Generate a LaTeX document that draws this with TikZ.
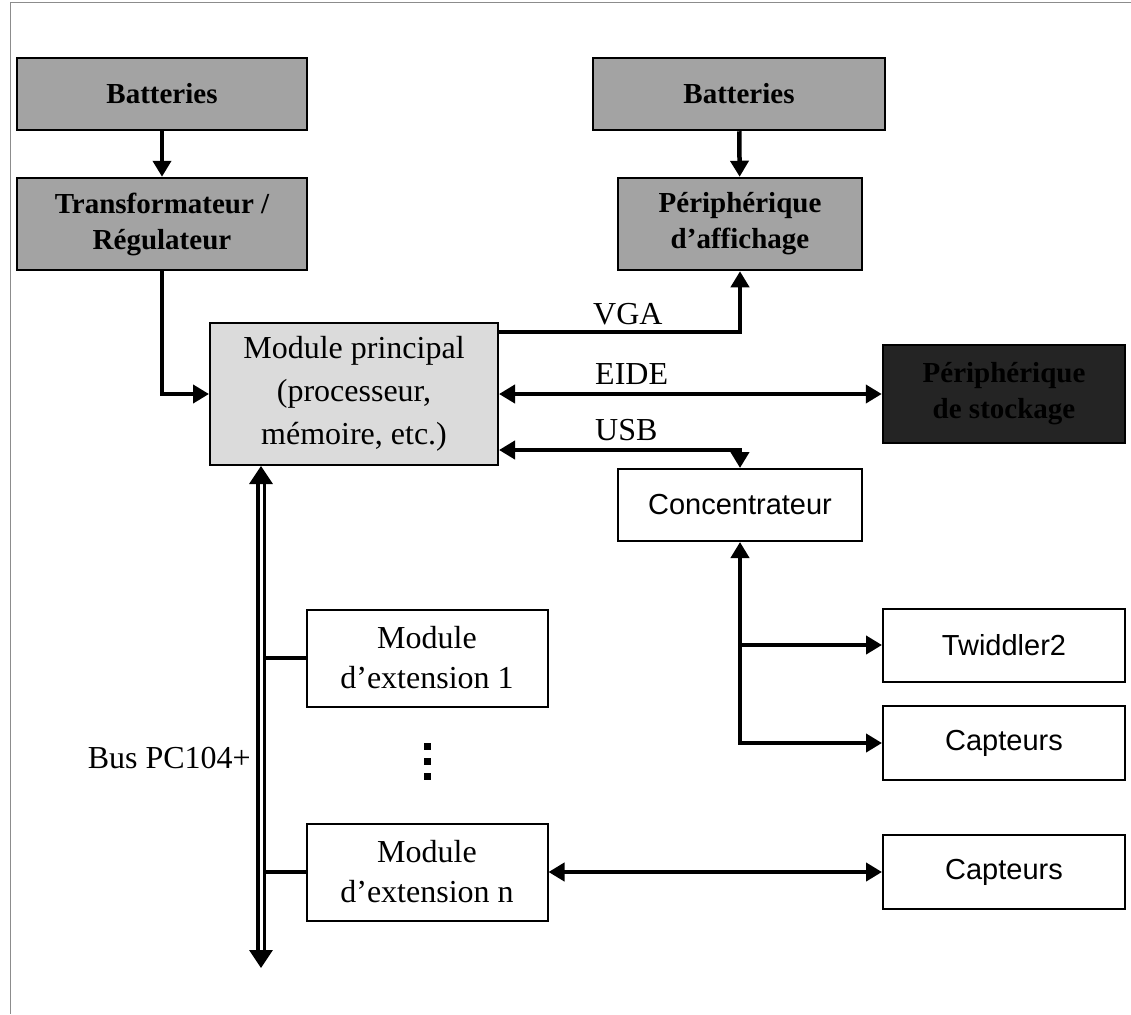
\documentclass[tikz,border=0pt]{standalone}
\usepackage{fontspec}
\setmainfont{Liberation Serif}
\newfontfamily\arialfont{Liberation Sans}
\usetikzlibrary{arrows.meta}
\begin{document}
\begin{tikzpicture}[x=1pt,y=-1pt,
  box/.style={draw, line width=2pt, rectangle, align=center, inner sep=0pt,
    font=\fontsize{32}{40}\selectfont},
  power/.style={box, line width=2.5pt, fill=black!36, font=\fontsize{29}{36}\selectfont\bfseries},
  mainbox/.style={box, fill=black!14, font=\fontsize{32}{43}\selectfont},
  darkbox/.style={box, line width=2.5pt, fill=black!86, text=black, font=\fontsize{29}{36}\selectfont\bfseries},
  sbox/.style={box, font=\fontsize{29}{34}\arialfont},
  lab/.style={inner sep=0pt, font=\fontsize{32}{38}\selectfont},
  link/.style={line width=4.5pt},
  arr/.style={link, -{Triangle[length=16pt,width=18pt]}},
  darr/.style={link, {Triangle[length=16pt,width=18pt]}-{Triangle[length=16pt,width=18pt]}},
  bus/.style={double, double distance=3pt, line width=3.5pt,
    {Triangle[length=18pt,width=23pt]}-{Triangle[length=18pt,width=23pt]}}
]
\useasboundingbox (0,0) rectangle (1131,1014);
% page frame
\draw[black!45, line width=1pt] (1131,3) -- (10,3) -- (10,1014);

% power chain
\node[power, minimum width=290, minimum height=72] (bat1) at (162,94) {Batteries};
\node[power, minimum width=290, minimum height=92] (tr) at (162,224) {Transformateur /\\Régulateur};
\node[power, minimum width=292, minimum height=72] (bat2) at (739,94) {Batteries};
\node[power, minimum width=244, minimum height=92] (aff) at (740,224) {Périphérique\\d’affichage};

% main module and peripherals
\node[mainbox, minimum width=288, minimum height=142] (mp) at (354,394) {Module principal\\(processeur,\\mémoire, etc.)};
\node[darkbox, minimum width=242, minimum height=98] (sto) at (1004,394) {Périphérique\\de stockage};
\node[sbox, minimum width=244, minimum height=72] (conc) at (740,505) {Concentrateur};
\node[sbox, minimum width=242, minimum height=73] (tw) at (1004,645) {Twiddler2};
\node[sbox, minimum width=242, minimum height=74] (cap1) at (1004,743) {Capteurs};
\node[sbox, minimum width=242, minimum height=74] (cap2) at (1004,872) {Capteurs};

% extension modules
\node[box, minimum width=241, minimum height=97] (m1) at (427,658) {Module\\d’extension 1};
\node[box, minimum width=241, minimum height=97] (mn) at (427,872) {Module\\d’extension n};
\fill (424,743) rectangle +(7,7);
\fill (424,758) rectangle +(7,7);
\fill (424,773) rectangle +(7,7);

% bus coordinates
\coordinate (busx) at (261,0);
\coordinate (busr) at (264,0);
\coordinate (busend) at (261,968);

% connectors
\draw[arr] (bat1) -- (tr);
\draw[arr] (tr.south) |- (mp.west);
\draw[arr] (bat2) -- (aff);
\draw[arr] ([yshift=-10pt]mp.north east) -| (aff.south);
\draw[darr] (mp.east) -- (sto.west);
\draw[darr] ([yshift=-56pt]mp.east) -| (conc.north);
\draw[darr] (conc.south) |- (cap1.west);
\draw[arr] (conc.south |- tw.west) -- (tw.west);
\draw[link] (busr |- m1.west) -- (m1.west);
\draw[link] (busr |- mn.west) -- (mn.west);
\draw[bus] (mp.south -| busx) -- (busend);
\draw[darr] (mn.east) -- (cap2.west);

% labels
\node[lab, anchor=west] (vga) at (593,314) {VGA};
\node[lab, anchor=west] (eide) at (595,374) {EIDE};
\node[lab, anchor=west] (usb) at (595,430) {USB};
\node[lab, anchor=east] (buslab) at (251,758) {Bus PC104+};
\end{tikzpicture}
\end{document}
